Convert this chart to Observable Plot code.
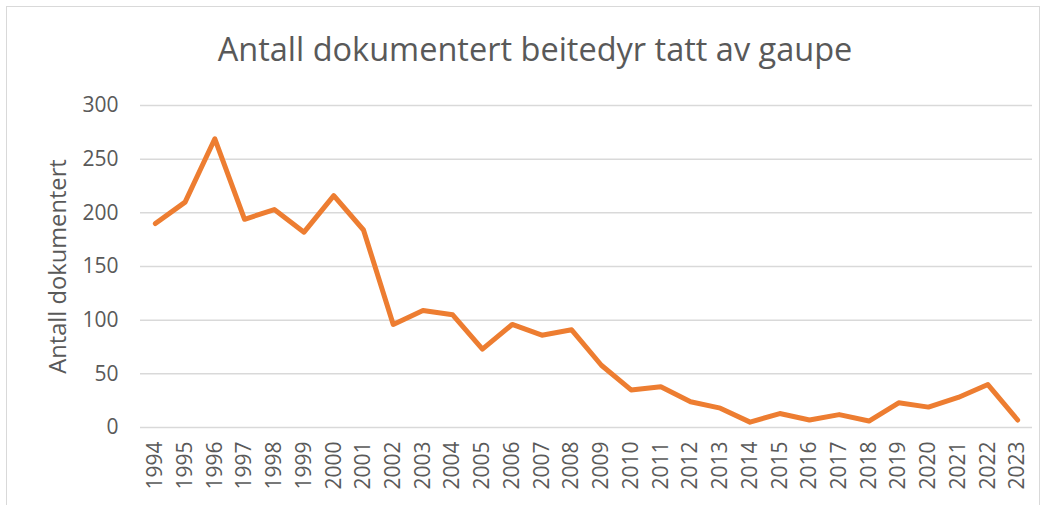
<!DOCTYPE html>
<html>
<head>
<meta charset="utf-8">
<script src="https://cdn.jsdelivr.net/npm/d3@7"></script>
<script src="https://cdn.jsdelivr.net/npm/@observablehq/plot@0.6"></script>
<style>
  html, body { margin: 0; padding: 0; background: #fff; }
  #wrap { position: relative; width: 1048px; height: 505px; overflow: hidden; font-family: "Open Sans", sans-serif; }
  #frame { position: absolute; left: 6px; top: 6px; width: 1034px; height: 520px; border: 1px solid #d9d9d9; box-sizing: border-box; }
  #title { position: absolute; left: 0; top: 0; width: 1070px; height: 80px; text-align: center; font-size: 32.5px; color: #595959; line-height: 1; padding-top: 33px; box-sizing: border-box; }
  #chart { position: absolute; left: 0; top: 80px; }
</style>
</head>
<body>
<div id="wrap">
  <div id="frame"></div>
  <div id="title">Antall dokumentert beitedyr tatt av gaupe</div>
  <div id="chart"></div>
</div>
<script>
const years = ["1994","1995","1996","1997","1998","1999","2000","2001","2002","2003","2004","2005","2006","2007","2008","2009","2010","2011","2012","2013","2014","2015","2016","2017","2018","2019","2020","2021","2022","2023"];
const counts = [190, 210, 269, 194, 203, 182, 216, 184, 96, 109, 105, 73, 96, 86, 91, 58, 35, 38, 24, 18, 5, 13, 7, 12, 6, 23, 19, 28, 40, 7];
const yTicks = [0, 50, 100, 150, 200, 250, 300];
const yLabel = "Antall dokumentert";

const data = years.map((y, i) => ({year: y, value: counts[i]}));

const chart = Plot.plot({
  width: 1048,
  height: 425,
  marginTop: 25,
  marginBottom: 78,
  marginLeft: 140,
  marginRight: 16,
  style: {fontFamily: "Open Sans, sans-serif", fontSize: "21px", color: "#595959", background: "transparent"},
  x: {type: "point", domain: years, padding: 0.5, round: false, label: null},
  y: {domain: [0, 300], label: null},
  marks: [
    Plot.gridY(yTicks, {stroke: "#d9d9d9", strokeOpacity: 1, strokeWidth: 1.5}),
    Plot.axisY(yTicks, {tickSize: 0, tickPadding: 22, fontSize: 21, fill: "#595959", label: null}),
    Plot.axisX({tickSize: 0, tickRotate: -90, tickPadding: 14, fontSize: 21, fill: "#595959", label: null}),
    Plot.text([yLabel], {frameAnchor: "left", dx: -82, rotate: -90, textAnchor: "middle", lineAnchor: "middle", fontSize: 23.7, fill: "#595959"}),
    Plot.line(data, {x: "year", y: "value", stroke: "#ED7D31", strokeWidth: 5, strokeLinejoin: "round", strokeLinecap: "round"})
  ]
});
document.getElementById("chart").appendChild(chart);
</script>
</body>
</html>
